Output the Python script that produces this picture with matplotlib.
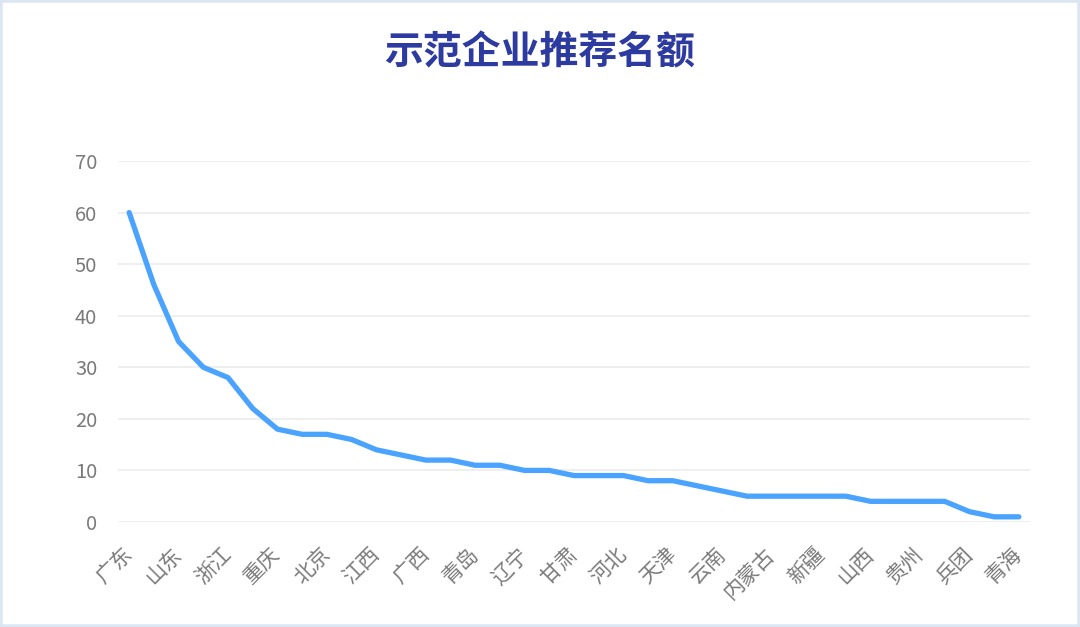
import matplotlib.pyplot as plt
from matplotlib.patches import Rectangle

plt.rcParams['font.family'] = ['Noto Sans CJK SC', 'DejaVu Sans']

# data (only every other region name is shown on the axis)
regions = ['广东', '江苏', '山东', '上海', '浙江', '安徽', '重庆', '四川', '北京', '湖北',
           '江西', '湖南', '广西', '福建', '青岛', '陕西', '辽宁', '河南', '甘肃', '吉林',
           '河北', '黑龙江', '天津', '厦门', '云南', '宁波', '内蒙古', '大连', '新疆', '深圳',
           '山西', '海南', '贵州', '宁夏', '兵团', '西藏', '青海']
quota = [60, 46, 35, 30, 28, 22, 18, 17, 17, 16,
         14, 13, 12, 12, 11, 11, 10, 10, 9, 9,
         9, 8, 8, 7, 6, 5, 5, 5, 5, 5,
         4, 4, 4, 4, 2, 1, 1]
yticks = [0, 10, 20, 30, 40, 50, 60, 70]

fig = plt.figure(figsize=(10.8, 6.27), dpi=100, facecolor='white')
fig.patches.append(Rectangle((0, 0), 1, 1, transform=fig.transFigure, fill=False,
                             edgecolor='#DCE6F2', linewidth=4, zorder=10))

ax = fig.add_axes([0.1093, 0.1675, 0.8444, 0.5757])
x = list(range(len(regions)))
ax.plot(x, quota, color='#4AA3FF', linewidth=3.8, solid_capstyle='round',
        solid_joinstyle='round', zorder=3)

ax.set_ylim(0, 70)
ax.set_xlim(-0.45, len(regions) - 0.55)
ax.set_yticks(yticks)
ax.set_xticks(x[::2])
ax.set_xticklabels(regions[::2], rotation=45, ha='right', va='center',
                   rotation_mode='anchor', fontsize=15)
ax.tick_params(axis='both', length=0, colors='#7A7A7A')
ax.tick_params(axis='y', pad=15, labelsize=14.5)
ax.tick_params(axis='x', pad=21)
ax.grid(axis='y', color='#EEEEEE', linewidth=1.3, zorder=0)
for s in ax.spines.values():
    s.set_visible(False)

fig.text(0.5, 0.915, '示范企业推荐名额', ha='center', va='center', fontsize=28,
         fontweight='bold', color='#2D3A9F')

fig.savefig('out.png', dpi=100, facecolor='white')
